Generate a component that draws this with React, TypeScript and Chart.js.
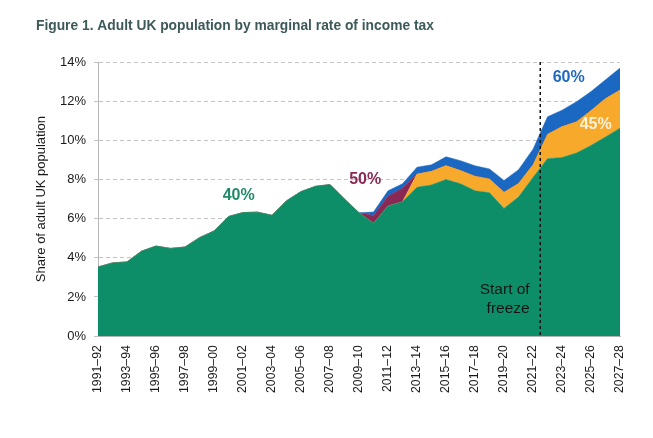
import { useEffect, useRef } from 'react';
import { Chart, registerables } from 'chart.js';

Chart.register(...registerables);

const years = [
  '1991–92', '1992–93', '1993–94', '1994–95', '1995–96', '1996–97', '1997–98', '1998–99',
  '1999–00', '2000–01', '2001–02', '2002–03', '2003–04', '2004–05', '2005–06', '2006–07',
  '2007–08', '2008–09', '2009–10', '2010–11', '2011–12', '2012–13', '2013–14', '2014–15',
  '2015–16', '2016–17', '2017–18', '2018–19', '2019–20', '2020–21', '2021–22', '2022–23',
  '2023–24', '2024–25', '2025–26', '2026–27', '2027–28',
];

// share of adult UK population (%) by marginal rate
const rate40 = [
  3.53, 3.74, 3.79, 4.34, 4.6, 4.48, 4.55, 5.03, 5.37, 6.11, 6.31, 6.33, 6.17, 6.91, 7.38, 7.65,
  7.74, 7.0, 6.3, 5.76, 6.65, 6.86, 7.6, 7.72, 8.0, 7.78, 7.42, 7.32, 6.52, 7.1, 8.1, 9.06,
  9.12, 9.35, 9.74, 10.17, 10.62,
];
const rate45 = [
  0, 0, 0, 0, 0, 0, 0, 0, 0, 0, 0, 0, 0, 0, 0, 0,
  0, 0, 0, 0, 0, 0, 0.68, 0.7, 0.71, 0.68, 0.75, 0.71, 0.83, 0.7, 0.65, 1.25,
  1.58, 1.6, 1.78, 1.96, 1.95,
];
const rate50 = [
  0, 0, 0, 0, 0, 0, 0, 0, 0, 0, 0, 0, 0, 0, 0, 0,
  0, 0, 0, 0.4, 0.5, 0.7, 0, 0, 0, 0, 0, 0, 0, 0, 0, 0,
  0, 0, 0, 0, 0,
];
const rate60 = [
  0, 0, 0, 0, 0, 0, 0, 0, 0, 0, 0, 0, 0, 0, 0, 0,
  0, 0, 0, 0.18, 0.27, 0.22, 0.35, 0.33, 0.45, 0.5, 0.53, 0.51, 0.6, 0.7, 0.8, 0.89,
  0.84, 1.02, 0.97, 0.96, 1.12,
];
const yTicks = [0, 2, 4, 6, 8, 10, 12, 14];

const FONT = '"Liberation Sans", Arial, sans-serif';
const GREEN = '#0e8e68';
const ORANGE = '#f6a92b';
const MAROON = '#8a2855';
const BLUE = '#1a68c1';

const annotations = {
  id: 'annotations',
  afterDatasetsDraw(chart: Chart) {
    const { ctx, chartArea, scales } = chart;
    const x = scales.x;
    const y = scales.y;
    ctx.save();

    // start of freeze marker
    const fx = x.getPixelForValue(30.5);
    ctx.strokeStyle = '#111';
    ctx.lineWidth = 1.5;
    ctx.setLineDash([3, 3]);
    ctx.beginPath();
    ctx.moveTo(fx, chartArea.top);
    ctx.lineTo(fx, chartArea.bottom);
    ctx.stroke();
    ctx.setLineDash([]);

    ctx.textBaseline = 'middle';
    ctx.textAlign = 'center';
    ctx.font = `bold 16px ${FONT}`;
    const labels: [string, number, number, string][] = [
      ['40%', 9.7, 7.17, '#218a69'],
      ['50%', 18.43, 7.99, MAROON],
      ['60%', 32.46, 13.19, '#2069bd'],
      ['45%', 34.32, 10.82, '#fdf3dc'],
    ];
    labels.forEach(([t, i, v, c]) => {
      ctx.fillStyle = c;
      ctx.fillText(t, x.getPixelForValue(i), y.getPixelForValue(v));
    });

    ctx.textAlign = 'right';
    ctx.font = `15.5px ${FONT}`;
    ctx.fillStyle = '#151515';
    ctx.fillText('Start of', x.getPixelForValue(29.77), y.getPixelForValue(2.38));
    ctx.fillText('freeze', x.getPixelForValue(29.77), y.getPixelForValue(1.4));

    // figure title
    ctx.textAlign = 'left';
    ctx.textBaseline = 'alphabetic';
    ctx.font = `bold 13.8px ${FONT}`;
    ctx.fillStyle = '#3d5959';
    ctx.fillText('Figure 1. Adult UK population by marginal rate of income tax', 36, 30);
    ctx.restore();
  },
};

export default function App() {
  const canvasRef = useRef<HTMLCanvasElement>(null);
  const chartRef = useRef<Chart | null>(null);

  useEffect(() => {
    if (!canvasRef.current) return;
    chartRef.current?.destroy();
    const area = (label: string, data: number[], color: string, fill: string) => ({
      label,
      data,
      backgroundColor: color,
      borderColor: color,
      borderWidth: 0.5,
      fill,
      pointRadius: 0,
      tension: 0,
    });
    chartRef.current = new Chart(canvasRef.current, {
      type: 'line',
      data: {
        labels: years,
        datasets: [
          area('40%', rate40, GREEN, 'origin'),
          area('45%', rate45, ORANGE, '-1'),
          area('50%', rate50, MAROON, '-1'),
          area('60%', rate60, BLUE, '-1'),
        ],
      },
      options: {
        responsive: false,
        animation: false,
        layout: { padding: { top: 62, right: 33, bottom: 41, left: 30 } },
        plugins: { legend: { display: false }, tooltip: { enabled: false } },
        scales: {
          x: {
            offset: false,
            grid: { display: false, drawTicks: true, tickLength: 5, tickColor: '#b5b5b5' },
            border: { color: '#b5b5b5' },
            ticks: {
              autoSkip: false,
              maxRotation: 90,
              minRotation: 90,
              padding: 4,
              color: '#1a1a1a',
              font: { family: FONT, size: 12.3 },
              callback: (_v, i) => (i % 2 === 0 ? years[i] : ''),
            },
          },
          y: {
            stacked: true,
            min: 0,
            max: 14,
            afterBuildTicks: (s) => {
              s.ticks = yTicks.map((value) => ({ value }));
            },
            afterFit: (s) => {
              s.width = 68;
            },
            grid: { color: '#c4c4c4', tickLength: 4, tickColor: '#c4c4c4' },
            border: { color: '#b5b5b5', dash: [4, 3] },
            ticks: {
              padding: 8,
              color: '#1a1a1a',
              font: { family: FONT, size: 13 },
              callback: (v) => `${v}%`,
            },
            title: {
              display: true,
              text: 'Share of adult UK population',
              color: '#1a1a1a',
              font: { family: FONT, size: 13 },
            },
          },
        },
      },
      plugins: [annotations],
    });
    return () => chartRef.current?.destroy();
  }, []);

  return (
    <div style={{ position: 'fixed', left: 0, top: 0, width: 653, height: 438, background: '#fff' }}>
      <canvas ref={canvasRef} width={653} height={438} />
    </div>
  );
}
